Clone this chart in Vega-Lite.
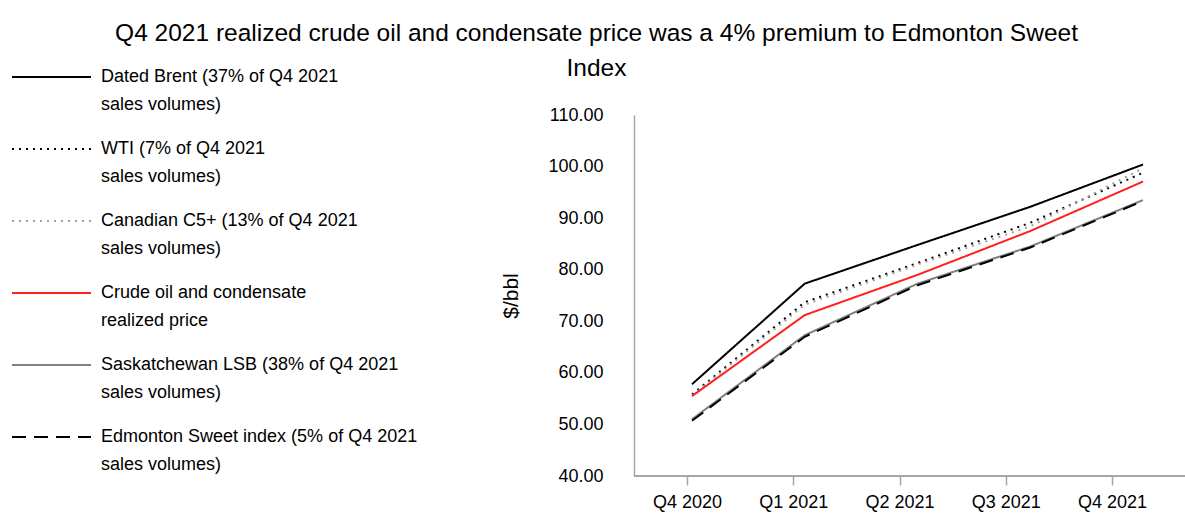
{
  "$schema": "https://vega.github.io/schema/vega-lite/v6.json",
  "width": 551,
  "height": 361,
  "autosize": {"type": "none"},
  "padding": {"left": 634, "top": 115, "right": 0, "bottom": 37},
  "background": "white",
  "config": {
    "font": "Liberation Sans",
    "view": {"stroke": null},
    "style": {"guide-label": {"lineHeight": 28}}
  },
  "title": {
    "text": ["Q4 2021 realized crude oil and condensate price was a 4% premium to Edmonton Sweet", "Index"],
    "frame": "group",
    "anchor": "middle",
    "dx": -313,
    "fontSize": 24.5,
    "fontWeight": "normal",
    "font": "Liberation Sans",
    "color": "#000000",
    "lineHeight": 35,
    "baseline": "top",
    "offset": 0,
    "dy": 15
  },
  "data": {
    "values": [
      {"quarter": "Q4 2020", "series": "Dated Brent (37% of Q4 2021|sales volumes)", "price": 57.8},
      {"quarter": "Q1 2021", "series": "Dated Brent (37% of Q4 2021|sales volumes)", "price": 77.3},
      {"quarter": "Q2 2021", "series": "Dated Brent (37% of Q4 2021|sales volumes)", "price": 84.8},
      {"quarter": "Q3 2021", "series": "Dated Brent (37% of Q4 2021|sales volumes)", "price": 92.2},
      {"quarter": "Q4 2021", "series": "Dated Brent (37% of Q4 2021|sales volumes)", "price": 100.4},
      {"quarter": "Q4 2020", "series": "WTI (7% of Q4 2021|sales volumes)", "price": 55.8},
      {"quarter": "Q1 2021", "series": "WTI (7% of Q4 2021|sales volumes)", "price": 73.7},
      {"quarter": "Q2 2021", "series": "WTI (7% of Q4 2021|sales volumes)", "price": 81.3},
      {"quarter": "Q3 2021", "series": "WTI (7% of Q4 2021|sales volumes)", "price": 89.1},
      {"quarter": "Q4 2021", "series": "WTI (7% of Q4 2021|sales volumes)", "price": 98.8},
      {"quarter": "Q4 2020", "series": "Canadian C5+ (13% of Q4 2021|sales volumes)", "price": 55.6},
      {"quarter": "Q1 2021", "series": "Canadian C5+ (13% of Q4 2021|sales volumes)", "price": 73.2},
      {"quarter": "Q2 2021", "series": "Canadian C5+ (13% of Q4 2021|sales volumes)", "price": 81.0},
      {"quarter": "Q3 2021", "series": "Canadian C5+ (13% of Q4 2021|sales volumes)", "price": 88.4},
      {"quarter": "Q4 2021", "series": "Canadian C5+ (13% of Q4 2021|sales volumes)", "price": 99.7},
      {"quarter": "Q4 2020", "series": "Crude oil and condensate|realized price", "price": 55.5},
      {"quarter": "Q1 2021", "series": "Crude oil and condensate|realized price", "price": 71.2},
      {"quarter": "Q2 2021", "series": "Crude oil and condensate|realized price", "price": 79.0},
      {"quarter": "Q3 2021", "series": "Crude oil and condensate|realized price", "price": 87.5},
      {"quarter": "Q4 2021", "series": "Crude oil and condensate|realized price", "price": 97.1},
      {"quarter": "Q4 2020", "series": "Saskatchewan LSB (38% of Q4 2021|sales volumes)", "price": 51.0},
      {"quarter": "Q1 2021", "series": "Saskatchewan LSB (38% of Q4 2021|sales volumes)", "price": 67.3},
      {"quarter": "Q2 2021", "series": "Saskatchewan LSB (38% of Q4 2021|sales volumes)", "price": 77.3},
      {"quarter": "Q3 2021", "series": "Saskatchewan LSB (38% of Q4 2021|sales volumes)", "price": 84.5},
      {"quarter": "Q4 2021", "series": "Saskatchewan LSB (38% of Q4 2021|sales volumes)", "price": 93.5},
      {"quarter": "Q4 2020", "series": "Edmonton Sweet index (5% of Q4 2021|sales volumes)", "price": 50.7},
      {"quarter": "Q1 2021", "series": "Edmonton Sweet index (5% of Q4 2021|sales volumes)", "price": 67.0},
      {"quarter": "Q2 2021", "series": "Edmonton Sweet index (5% of Q4 2021|sales volumes)", "price": 77.0},
      {"quarter": "Q3 2021", "series": "Edmonton Sweet index (5% of Q4 2021|sales volumes)", "price": 84.3},
      {"quarter": "Q4 2021", "series": "Edmonton Sweet index (5% of Q4 2021|sales volumes)", "price": 93.3}
    ]
  },
  "resolve": {"scale": {"x": "independent"}},
  "layer": [
    {
      "mark": {"type": "rule", "color": "#a6a6a6", "strokeWidth": 1.5},
      "encoding": {"y": {"datum": 40, "type": "quantitative"}}
    },
    {
      "mark": {"type": "point", "opacity": 0},
      "encoding": {
        "x": {
          "field": "quarter",
          "type": "ordinal",
          "sort": ["Q4 2020", "Q1 2021", "Q2 2021", "Q3 2021", "Q4 2021"],
          "scale": {"type": "point", "range": [53, 478], "padding": 0},
          "axis": {
            "title": null,
            "domain": false,
            "ticks": true,
            "tickSize": 9,
            "tickColor": "#a6a6a6",
            "tickWidth": 1.5,
            "grid": false,
            "labelAngle": 0,
            "labelFont": "Liberation Sans",
            "labelFontSize": 18,
            "labelColor": "#000000",
            "labelPadding": 8
          }
        },
        "y": {"field": "price", "type": "quantitative"}
      }
    },
    {
      "mark": {"type": "line", "strokeWidth": 2},
      "encoding": {
        "x": {
          "field": "quarter",
          "type": "ordinal",
          "sort": ["Q4 2020", "Q1 2021", "Q2 2021", "Q3 2021", "Q4 2021"],
          "scale": {"type": "point", "range": [58, 509], "padding": 0},
          "axis": null
        },
        "y": {
          "field": "price",
          "type": "quantitative",
          "scale": {"domain": [40, 110], "nice": false, "zero": false},
          "axis": {
            "title": "$/bbl",
            "titleFont": "Liberation Sans",
            "titleFontSize": 21,
            "titleFontWeight": "normal",
            "titleColor": "#000000",
            "titlePadding": 26,
            "values": [40, 50, 60, 70, 80, 90, 100, 110],
            "format": ".2f",
            "grid": false,
            "ticks": false,
            "tickSize": 0,
            "domainColor": "#a6a6a6",
            "domainWidth": 1.5,
            "labelFont": "Liberation Sans",
            "labelFontSize": 18,
            "labelColor": "#000000",
            "labelPadding": 31
          }
        },
        "color": {
          "field": "series",
          "type": "nominal",
          "scale": {
            "domain": [
              "Dated Brent (37% of Q4 2021|sales volumes)",
              "WTI (7% of Q4 2021|sales volumes)",
              "Canadian C5+ (13% of Q4 2021|sales volumes)",
              "Crude oil and condensate|realized price",
              "Saskatchewan LSB (38% of Q4 2021|sales volumes)",
              "Edmonton Sweet index (5% of Q4 2021|sales volumes)"
            ],
            "range": ["#000000", "#000000", "#a0a0a0", "#ff2020", "#808080", "#000000"]
          },
          "legend": {
            "title": null,
            "orient": "none",
            "legendX": -593.5,
            "legendY": -49,
            "symbolType": "M-4,0H4",
            "symbolSize": 390,
            "symbolStrokeWidth": 2,
            "symbolFillColor": "transparent",
            "labelOffset": 38.5,
            "labelFont": "Liberation Sans",
            "labelFontSize": 18,
            "labelColor": "#000000",
            "labelLimit": 400,
            "labelExpr": "split(datum.label, '|')",
            "rowPadding": 24
          }
        },
        "strokeDash": {
          "field": "series",
          "type": "nominal",
          "scale": {
            "domain": [
              "Dated Brent (37% of Q4 2021|sales volumes)",
              "WTI (7% of Q4 2021|sales volumes)",
              "Canadian C5+ (13% of Q4 2021|sales volumes)",
              "Crude oil and condensate|realized price",
              "Saskatchewan LSB (38% of Q4 2021|sales volumes)",
              "Edmonton Sweet index (5% of Q4 2021|sales volumes)"
            ],
            "range": [[1, 0], [2, 5], [2, 5], [1, 0], [1, 0], [14, 8]]
          }
        }
      }
    }
  ]
}
